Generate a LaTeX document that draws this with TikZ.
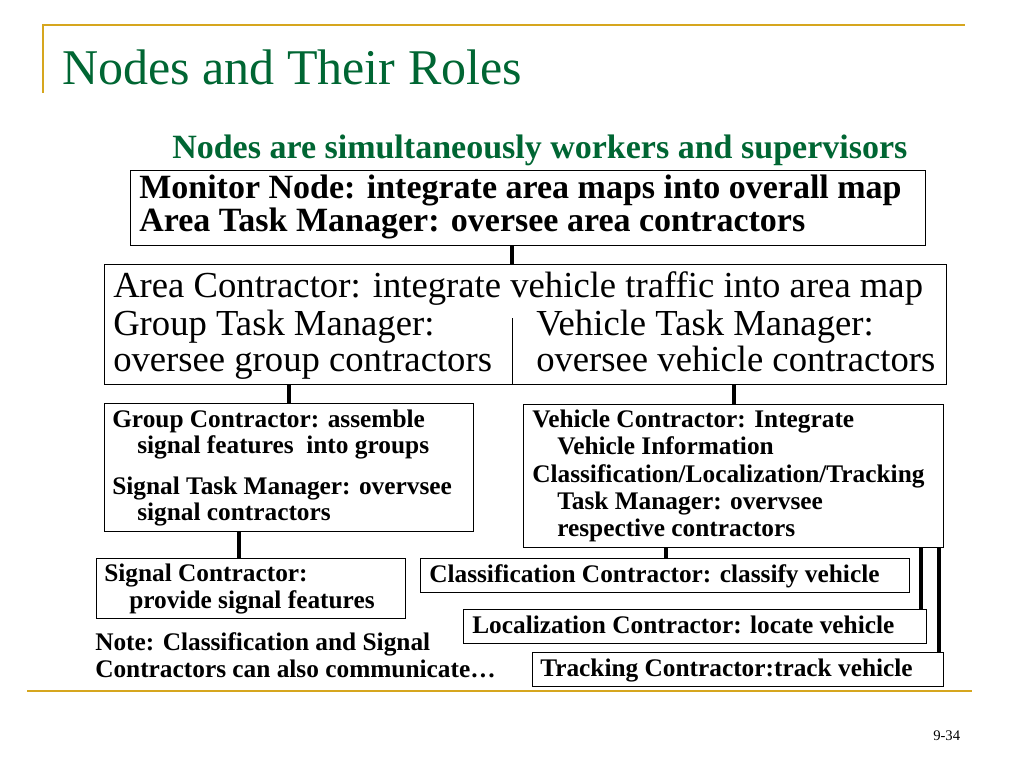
\documentclass[tikz,border=0pt]{standalone}
\usepackage{fontspec}
\setmainfont{Liberation Serif}
\definecolor{titlegreen}{RGB}{0,102,51}
\definecolor{rulegold}{RGB}{214,166,30}
\tikzset{
  box/.style={draw, line width=1.1pt, inner sep=0pt, anchor=north west},
  sized/.style 2 args={minimum width=#1*0.75pt, minimum height=#2*0.75pt},
  link/.style={line width=3.6pt},
  txt/.style={anchor=base west, inner sep=0pt},
  hdrfont/.style={font=\fontsize{25.5}{30}\selectfont\bfseries},
  bigfont/.style={font=\fontsize{27.5}{32}\selectfont},
  smallfont/.style={font=\fontsize{19}{23}\selectfont\bfseries},
}

\begin{document}
\begin{tikzpicture}[x=0.75pt,y=0.75pt,yscale=-1,xscale=1]
\useasboundingbox [fill=white] (0,0) rectangle (1024,768);

%Title bar
\draw [color=rulegold, line width=1.5pt] (42,25) -- (965,25);
\draw [color=rulegold, line width=1.1pt] (43,25) -- (43,93);
\node [txt, text=titlegreen, font=\fontsize{37.5}{45}\selectfont] (title) at (62,84) {Nodes and Their Roles};
\node [txt, text=titlegreen, hdrfont] (subtitle) at (172,158) {Nodes are simultaneously workers and supervisors};

%Boxes
\node [box, sized={795}{75}] (monitor) at (130,170) {};
\node [box, sized={842}{120}] (area) at (104,264) {};
\node [box, sized={369}{128}] (group) at (104,403) {};
\node [box, sized={420}{143}] (vehicle) at (523,404) {};
\node [box, sized={309}{60}] (signal) at (96,558) {};
\node [box, sized={489}{34}] (classif) at (420,558) {};
\node [box, sized={463}{34}] (locali) at (463,609) {};
\node [box, sized={411}{34}] (track) at (532,652) {};

%Links
\draw [link] (512,0 |- monitor.south) -- (512,0 |- area.north);
\draw [link] (289,0 |- area.south) -- (289,0 |- group.north);
\draw [link] (734,0 |- area.south) -- (734,0 |- vehicle.north);
\draw [link] (239,0 |- group.south) -- (239,0 |- signal.north);
\draw [link] (666,0 |- vehicle.south) -- (666,0 |- classif.north);
\draw [link] (921,0 |- vehicle.south) -- (921,0 |- locali.north);
\draw [link] (939,0 |- vehicle.south) -- (939,0 |- track.north);
\draw [line width=0.75pt] (512,318) -- (512,0 |- area.south);

%Text
\node [txt, hdrfont] (mon1) at (139,198) {Monitor Node: integrate area maps into overall map};
\node [txt, hdrfont] (mon2) at (139,231) {Area Task Manager: oversee area contractors};
\node [txt, bigfont] (area1) at (113,297) {Area Contractor: integrate vehicle traffic into area map};
\node [txt, bigfont] (area2l) at (113,335) {Group Task Manager:};
\node [txt, bigfont] (area2r) at (536,335) {Vehicle Task Manager:};
\node [txt, bigfont] (area3l) at (113,371) {oversee group contractors};
\node [txt, bigfont] (area3r) at (536,371) {oversee vehicle contractors};
\node [txt, smallfont] (grp1) at (112,427) {Group Contractor: assemble};
\node [txt, smallfont] (grp2) at (137,453) {signal features\ \ into groups};
\node [txt, smallfont] (grp3) at (112,494) {Signal Task Manager: overvsee};
\node [txt, smallfont] (grp4) at (137,520) {signal contractors};
\node [txt, smallfont] (veh1) at (532,427) {Vehicle Contractor: Integrate};
\node [txt, smallfont] (veh2) at (557,454) {Vehicle Information};
\node [txt, smallfont] (veh3) at (532,482) {Classification/Localization/Tracking};
\node [txt, smallfont] (veh4) at (557,509) {Task Manager: overvsee};
\node [txt, smallfont] (veh5) at (557,536) {respective contractors};
\node [txt, smallfont] (sig1) at (104,581) {Signal Contractor:};
\node [txt, smallfont] (sig2) at (129,608) {provide signal features};
\node [txt, smallfont] (cls1) at (429,582) {Classification Contractor: classify vehicle};
\node [txt, smallfont] (loc1) at (472,633) {Localization Contractor: locate vehicle};
\node [txt, smallfont] (trk1) at (540,676) {Tracking Contractor:track vehicle};
\node [txt, smallfont] (note1) at (95,650) {Note: Classification and Signal};
\node [txt, smallfont] (note2) at (95,677) {Contractors can also communicate…};

%Footer
\draw [color=rulegold, line width=2.2pt] (27,691) -- (972,691);
\node [txt, font=\fontsize{11}{13}\selectfont] (pagenum) at (933,740) {9-34};
\end{tikzpicture}
\end{document}
